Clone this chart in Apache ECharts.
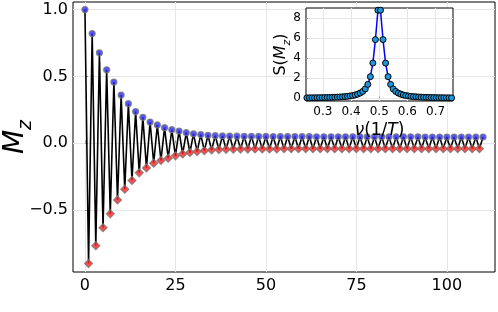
<!DOCTYPE html>
<html><head><meta charset="utf-8">
<script src="https://cdn.jsdelivr.net/npm/echarts@6/dist/echarts.min.js"></script>
<style>html,body{margin:0;padding:0;background:#fff}#c{width:498px;height:312px}</style>
</head><body><div id="c"></div>
<script>
// M_z at even steps n = 0,2,...,110
const mzEven = [1.0,0.821,0.677,0.55,0.458,0.361,0.296,0.237,0.194,0.159,0.137,0.117,0.102,0.092,0.079,0.071,0.065,0.060,0.057,0.055,0.054,0.053,0.052,0.052,0.051,0.051,0.050,0.050,0.050,0.050,0.050,0.050,0.049,0.049,0.049,0.049,0.049,0.049,0.049,0.048,0.048,0.048,0.048,0.048,0.048,0.048,0.048,0.047,0.047,0.047,0.047,0.047,0.047,0.047,0.047,0.047];
// M_z at odd steps n = 1,3,...,109
const mzOdd = [-0.90,-0.766,-0.632,-0.528,-0.424,-0.343,-0.278,-0.221,-0.184,-0.149,-0.129,-0.112,-0.094,-0.080,-0.069,-0.062,-0.055,-0.050,-0.047,-0.045,-0.044,-0.043,-0.043,-0.042,-0.042,-0.042,-0.042,-0.041,-0.041,-0.041,-0.041,-0.041,-0.041,-0.041,-0.040,-0.040,-0.040,-0.040,-0.040,-0.040,-0.040,-0.040,-0.040,-0.040,-0.040,-0.040,-0.040,-0.040,-0.040,-0.040,-0.040,-0.040,-0.040,-0.040,-0.040];
const mainXTicks = [0,25,50,75,100];
const mainYTicks = [-0.5,0,0.5,1.0];
// spectrum
const specFreq = [0.2432,0.2523,0.2613,0.2703,0.2793,0.2883,0.2973,0.3063,0.3153,0.3243,0.3333,0.3423,0.3514,0.3604,0.3694,0.3784,0.3874,0.3964,0.4054,0.4144,0.4234,0.4324,0.4414,0.4505,0.4595,0.4685,0.4775,0.4865,0.4955,0.5045,0.5135,0.5225,0.5315,0.5405,0.5495,0.5586,0.5676,0.5766,0.5856,0.5946,0.6036,0.6126,0.6216,0.6306,0.6396,0.6486,0.6577,0.6667,0.6757,0.6847,0.6937,0.7027,0.7117,0.7207,0.7297,0.7387,0.7477,0.7568];
const specVal = [0.042,0.045,0.048,0.051,0.055,0.059,0.064,0.070,0.076,0.083,0.092,0.102,0.114,0.128,0.145,0.165,0.19,0.23,0.27,0.33,0.41,0.52,0.68,0.93,1.38,2.15,3.5,5.83,8.75,
                 8.75,5.83,3.5,2.15,1.38,0.93,0.68,0.52,0.41,0.33,0.27,0.23,0.19,0.165,0.145,0.128,0.114,0.102,0.092,0.083,0.076,0.070,0.064,0.059,0.055,0.051,0.048,0.045,0.042];
const insetXTicks = [0.3,0.4,0.5,0.6,0.7];
const insetYTicks = [0,2,4,6,8];

const FONT = 'DejaVu Sans';
const evenPts = mzEven.map((v,i)=>[2*i, v]);
const oddPts = mzOdd.map((v,i)=>[2*i+1, v]);
const allPts = [];
for (let n = 0; n < mzEven.length + mzOdd.length; n++) {
  allPts.push(n % 2 === 0 ? [n, mzEven[n/2]] : [n, mzOdd[(n-1)/2]]);
}
const specPts = specFreq.map((f,i)=>[f, specVal[i]]);
const fmt1 = v => (v < 0 ? '\u2212' : '') + Math.abs(v).toFixed(1);
const grid = {lineStyle:{color:'#e6e6e6', width:1}};

const chart = echarts.init(document.getElementById('c'), null, {renderer:'canvas'});
chart.setOption({
  animation:false,
  backgroundColor:'#fff',
  grid:[
    {left:73, right:3, top:2, bottom:40, show:true, borderColor:'#000', borderWidth:1, backgroundColor:'#fff', z:0, outerBoundsMode:'none', containLabel:false},
    {left:306, width:147, top:8, height:93, show:true, borderColor:'#000', borderWidth:1, backgroundColor:'#fff', z:10, outerBoundsMode:'none', containLabel:false}
  ],
  xAxis:[
    {gridIndex:0, type:'value', min:-3.3, max:113.3,
     axisLine:{show:false},
     axisTick:{show:true, inside:true, length:3, customValues:mainXTicks, lineStyle:{color:'#999'}},
     axisLabel:{customValues:mainXTicks, fontSize:16, color:'#000', fontFamily:FONT, margin:6},
     splitLine:Object.assign({show:true}, grid)},
    {gridIndex:1, type:'value', min:0.24, max:0.762, z:11,
     axisLine:{show:false},
     axisTick:{show:true, inside:true, length:2, customValues:insetXTicks, lineStyle:{color:'#999'}},
     axisLabel:{customValues:insetXTicks, fontSize:12, color:'#000', fontFamily:FONT, margin:5, formatter:v=>v.toFixed(1)},
     splitLine:Object.assign({show:true}, grid),
     name:'{v|\u03bd}{n|(1/}{v|T}{n|)}', nameLocation:'middle', nameGap:21, nameMoveOverlap:false,
     nameTextStyle:{rich:{v:{fontSize:17, fontStyle:'italic', fontFamily:FONT, color:'#000'}, n:{fontSize:17, fontFamily:FONT, color:'#000'}}}}
  ],
  yAxis:[
    {gridIndex:0, type:'value', min:-0.963, max:1.057,
     axisLine:{show:false},
     axisTick:{show:true, inside:true, length:3, customValues:mainYTicks, lineStyle:{color:'#999'}},
     axisLabel:{customValues:mainYTicks, fontSize:16, color:'#000', fontFamily:FONT, margin:5, formatter:fmt1},
     splitLine:Object.assign({show:true}, grid),
     name:'{m|M}{s|z}', nameLocation:'middle', nameRotate:90, nameGap:37, nameMoveOverlap:false,
     nameTextStyle:{rich:{m:{fontSize:28, fontStyle:'italic', fontFamily:FONT, color:'#000', lineHeight:28, verticalAlign:'top'},
                          s:{fontSize:19, fontStyle:'italic', fontFamily:FONT, color:'#000', lineHeight:34, verticalAlign:'bottom'}}}},
    {gridIndex:1, type:'value', min:-0.27, max:8.97, z:11,
     axisLine:{show:false},
     axisTick:{show:true, inside:true, length:2, customValues:insetYTicks, lineStyle:{color:'#999'}},
     axisLabel:{customValues:insetYTicks, fontSize:12, color:'#000', fontFamily:FONT, margin:5},
     splitLine:Object.assign({show:true}, grid),
     name:'{n|S(}{v|M}{s|z}{n|)}', nameLocation:'middle', nameRotate:90, nameGap:13, nameMoveOverlap:false,
     nameTextStyle:{rich:{n:{fontSize:16, fontFamily:FONT, color:'#000', lineHeight:16, verticalAlign:'top'},
                          v:{fontSize:16, fontStyle:'italic', fontFamily:FONT, color:'#000', lineHeight:16, verticalAlign:'top'},
                          s:{fontSize:11, fontStyle:'italic', fontFamily:FONT, color:'#000', lineHeight:20, verticalAlign:'bottom'}}}}
  ],
  series:[
    {type:'line', xAxisIndex:0, yAxisIndex:0, data:allPts, showSymbol:false, symbol:'none',
     lineStyle:{color:'#000', width:1.6}, z:2, silent:true},
    {type:'scatter', xAxisIndex:0, yAxisIndex:0, data:evenPts, symbol:'circle', symbolSize:6,
     itemStyle:{color:'#2a2aff', borderColor:'#777', borderWidth:1.2}, z:3},
    {type:'scatter', xAxisIndex:0, yAxisIndex:0, data:oddPts, symbol:'diamond', symbolSize:8,
     itemStyle:{color:'#ff2020', borderColor:'#777', borderWidth:1.2}, z:3},
    {type:'line', xAxisIndex:1, yAxisIndex:1, data:specPts, symbol:'circle', symbolSize:6, showSymbol:true,
     lineStyle:{color:'#0000ff', width:1.5}, itemStyle:{color:'#1f97dc', borderColor:'#000', borderWidth:1},
     z:12, clip:false}
  ]
});
</script>
</body></html>
